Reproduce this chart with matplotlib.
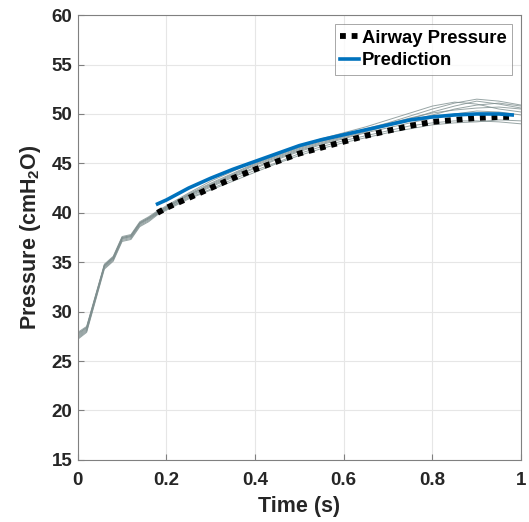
import numpy as np
import matplotlib
matplotlib.use('Agg')
import matplotlib.pyplot as plt

plt.rcParams['font.family'] = 'Liberation Sans'
plt.rcParams['font.weight'] = 'bold'
plt.rcParams['mathtext.fontset'] = 'custom'
plt.rcParams['mathtext.rm'] = 'Liberation Sans:bold'
plt.rcParams['mathtext.default'] = 'rm'

# gray simulated traces
t_gray = [0, 0.02, 0.06, 0.08, 0.10, 0.12, 0.14, 0.16, 0.18, 0.25, 0.30, 0.35, 0.40,
          0.45, 0.50, 0.55, 0.60, 0.65, 0.70, 0.75, 0.80, 0.85, 0.90, 0.95, 1.00]
g1 = [27.3, 28.0, 34.4, 35.2, 37.2, 37.4, 38.7, 39.2, 39.9, 41.5, 42.4, 43.4, 44.3, 45.1, 46.0, 46.7, 47.3, 47.8, 48.3, 48.8, 49.1, 49.3, 49.3, 49.2, 49.0]
g2 = [27.5, 28.2, 34.6, 35.4, 37.4, 37.6, 38.9, 39.4, 40.0, 41.8, 42.8, 43.8, 44.8, 45.6, 46.4, 47.1, 47.7, 48.3, 48.9, 49.5, 50.2, 50.8, 51.3, 51.0, 50.6]
g3 = [27.7, 28.4, 34.7, 35.5, 37.5, 37.7, 39.0, 39.5, 40.1, 41.9, 43.0, 44.0, 45.0, 45.8, 46.6, 47.3, 47.9, 48.5, 49.1, 49.8, 50.5, 51.1, 51.5, 51.3, 50.9]
g4 = [27.9, 28.5, 34.8, 35.6, 37.6, 37.8, 39.1, 39.6, 40.2, 42.0, 43.2, 44.2, 45.2, 46.0, 46.8, 47.5, 48.1, 48.7, 49.4, 50.1, 50.8, 51.2, 51.0, 50.5, 50.2]
g5 = [27.4, 28.1, 34.5, 35.3, 37.3, 37.5, 38.8, 39.3, 39.9, 41.6, 42.6, 43.6, 44.5, 45.4, 46.2, 46.9, 47.5, 48.1, 48.6, 49.1, 49.6, 50.0, 50.3, 50.2, 49.9]
g6 = [27.6, 28.3, 34.6, 35.4, 37.4, 37.6, 38.9, 39.4, 40.0, 41.7, 42.7, 43.7, 44.6, 45.5, 46.3, 47.0, 47.6, 48.2, 48.8, 49.3, 49.9, 50.5, 50.9, 51.1, 50.8]
g7 = [27.2, 27.9, 34.3, 35.1, 37.1, 37.3, 38.6, 39.1, 39.8, 41.4, 42.3, 43.2, 44.1, 45.0, 45.8, 46.5, 47.1, 47.6, 48.1, 48.5, 48.9, 49.1, 49.2, 49.4, 49.3]
g8 = [27.8, 28.4, 34.7, 35.5, 37.5, 37.7, 39.0, 39.5, 40.1, 41.8, 42.9, 43.9, 44.9, 45.7, 46.5, 47.2, 47.8, 48.4, 49.0, 49.6, 50.1, 50.4, 50.6, 50.7, 50.5]
gray_traces = [g1, g2, g3, g4, g5, g6, g7, g8]

# measured airway pressure and prediction
t_main = [0.18, 0.20, 0.25, 0.30, 0.35, 0.40, 0.45, 0.50, 0.55, 0.60,
          0.65, 0.70, 0.75, 0.80, 0.85, 0.90, 0.95, 0.98]
airway = [40.0, 40.5, 41.5, 42.5, 43.5, 44.4, 45.2, 46.0, 46.6, 47.2,
          47.8, 48.3, 48.8, 49.2, 49.4, 49.6, 49.7, 49.7]
pred = [40.9, 41.3, 42.5, 43.5, 44.4, 45.2, 46.0, 46.8, 47.4, 47.9,
        48.4, 48.9, 49.4, 49.7, 49.9, 50.0, 50.0, 49.9]

fig = plt.figure(figsize=(5.29, 5.22), dpi=100)
ax = fig.add_axes([0.147, 0.119, 0.838, 0.852])

for g in gray_traces:
    ax.plot(t_gray, g, color='#7f8f8f', lw=0.7, alpha=0.8)

ax.plot(t_main, airway, color='black', lw=4.2, linestyle=(0, (1, 1)),
        dash_capstyle='butt', label='Airway Pressure', zorder=3)
ax.plot(t_main, pred, color='#0072BD', lw=2.6, label='Prediction', zorder=4)

ax.set_xlim(0, 1)
ax.set_ylim(15, 60)
ax.set_xticks([0, 0.2, 0.4, 0.6, 0.8, 1])
ax.set_xticklabels(['0', '0.2', '0.4', '0.6', '0.8', '1'])
ax.set_yticks(np.arange(15, 61, 5))
ax.grid(True, color='#e6e6e6', lw=0.8)
ax.set_axisbelow(True)
for s in ax.spines.values():
    s.set_color('#808080')
    s.set_linewidth(0.8)
ax.tick_params(direction='in', length=4, color='#808080', labelsize=13.5,
               labelcolor='#262626')
ax.tick_params(axis='x', pad=9)
ax.tick_params(axis='y', pad=4)
ax.set_xlabel('Time (s)', fontsize=15.5, fontweight='bold', color='#262626', labelpad=5)
ax.set_ylabel('Pressure (cmH$_2$O)', fontsize=15.5, fontweight='bold', color='#262626', labelpad=6)

leg = ax.legend(loc='upper right', fontsize=13.3, handlelength=1.0, handletextpad=0.15,
                borderpad=0.3, labelspacing=0.3, fancybox=False, borderaxespad=0.5)
leg.get_frame().set_edgecolor('#808080')
leg.get_frame().set_linewidth(0.6)
for txt in leg.get_texts():
    txt.set_fontweight('bold')

fig.savefig('out.png', dpi=100)
